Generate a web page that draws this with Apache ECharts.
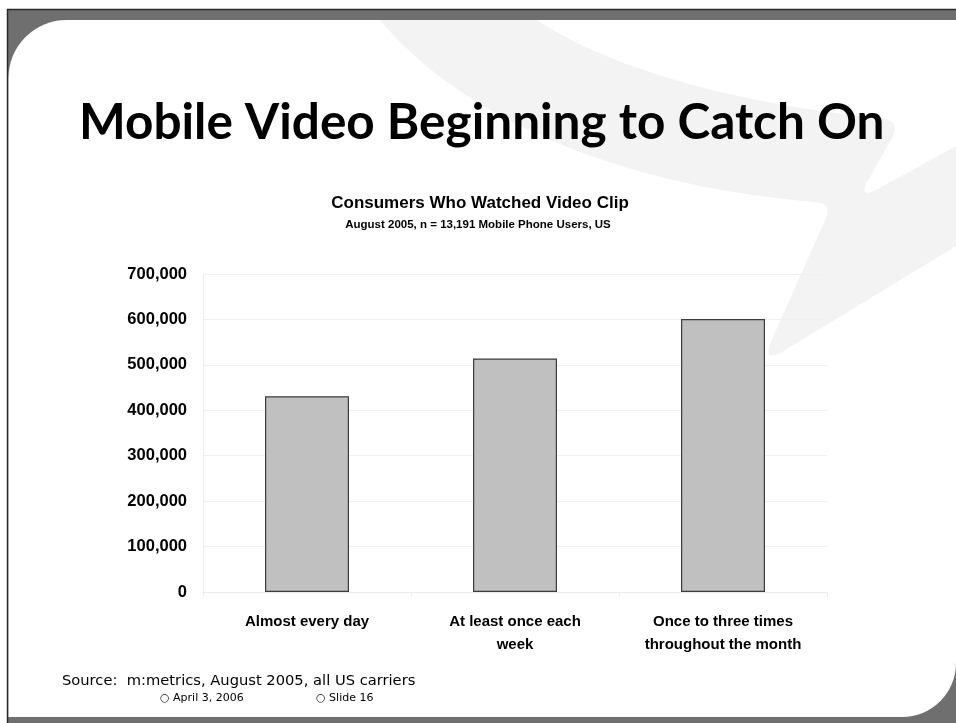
<!DOCTYPE html>
<html>
<head>
<meta charset="utf-8">
<script src="https://cdn.jsdelivr.net/npm/echarts@6/dist/echarts.min.js"></script>
<style>
  html, body { margin: 0; padding: 0; background: #ffffff; }
  #chart { width: 956px; height: 723px; }
</style>
</head>
<body>
<div id="chart"></div>
<script>
// Viewing frequency categories and audience counts
const categories = [
  'Almost every day',
  'At least once each\nweek',
  'Once to three times\nthroughout the month'
];
const viewers = [431000, 514000, 601000];

const slideTitle = 'Mobile Video Beginning to Catch On';
const chartTitle = 'Consumers Who Watched Video Clip';
const chartSubtitle = 'August 2005, n = 13,191 Mobile Phone Users, US';
const sourceNote = 'Source:  m:metrics, August 2005, all US carriers';
const footerDate = '\u25CB April 3, 2006';
const footerSlide = '\u25CB Slide 16';

// decorative swoosh in the slide template
echarts.graphic.registerShape('swoosh', echarts.graphic.extendPath(
  'M 380 20 L 537 20 C 592 58 712 102 880 118 Q 900 120 893 136 ' +
  'L 866 184 Q 860 198 876 190 L 956 146 L 956 246 L 782 352 ' +
  'Q 764 362 770 344 L 826 218 Q 832 203 815 202 C 640 188 470 128 380 20 Z'
));

const chart = echarts.init(document.getElementById('chart'), null, { renderer: 'canvas' });

const chartFont = '"Liberation Sans", Arial, sans-serif';

chart.setOption({
  animation: false,
  backgroundColor: '#ffffff',
  graphic: {
    elements: [
      // slide frame: dark band with rounded white page on top
      {
        type: 'rect', z: -10, silent: true,
        shape: { x: 7.5, y: 9.5, width: 960, height: 720 },
        style: { fill: '#6f6f6f', stroke: '#2a2a2a', lineWidth: 1.5 }
      },
      {
        type: 'rect', z: -9, silent: true,
        shape: { x: 8.5, y: 20, width: 947.5, height: 697, r: [58, 0, 54, 0] },
        style: { fill: '#ffffff' }
      },
      {
        type: 'swoosh', z: -8, silent: true,
        style: { fill: '#f3f3f3' }
      },
      {
        type: 'text', silent: true,
        x: 79, y: 123,
        style: {
          text: slideTitle,
          font: 'bold 49.5px Lato, "Open Sans", sans-serif',
          fill: '#000000', align: 'left', verticalAlign: 'middle'
        }
      },
      {
        type: 'text', silent: true,
        x: 480, y: 203,
        style: {
          text: chartTitle,
          font: 'bold 17px ' + chartFont,
          fill: '#000000', align: 'center', verticalAlign: 'middle'
        }
      },
      {
        type: 'text', silent: true,
        x: 478, y: 225,
        style: {
          text: chartSubtitle,
          font: 'bold 11.5px ' + chartFont,
          fill: '#000000', align: 'center', verticalAlign: 'middle'
        }
      },
      {
        type: 'text', silent: true,
        x: 62, y: 681,
        style: {
          text: sourceNote,
          font: '14.7px "DejaVu Sans", sans-serif',
          fill: '#000000', align: 'left', verticalAlign: 'middle'
        }
      },
      {
        type: 'text', silent: true,
        x: 160, y: 698,
        style: {
          text: footerDate,
          font: '11px "DejaVu Sans", sans-serif',
          fill: '#000000', align: 'left', verticalAlign: 'middle'
        }
      },
      {
        type: 'text', silent: true,
        x: 316, y: 698,
        style: {
          text: footerSlide,
          font: '11px "DejaVu Sans", sans-serif',
          fill: '#000000', align: 'left', verticalAlign: 'middle'
        }
      }
    ]
  },
  grid: {
    left: 203,
    right: 129,
    top: 274,
    bottom: 131,
    containLabel: false
  },
  xAxis: {
    type: 'category',
    data: categories,
    axisLine: { show: true, lineStyle: { color: '#ececec', width: 1 } },
    axisTick: { show: true, length: 5, lineStyle: { color: '#ececec' } },
    axisLabel: {
      interval: 0,
      margin: 18,
      color: '#000000',
      fontFamily: chartFont,
      fontWeight: 'bold',
      fontSize: 15,
      lineHeight: 23
    },
    splitLine: { show: false }
  },
  yAxis: {
    type: 'value',
    min: 0,
    max: 700000,
    interval: 100000,
    axisLine: { show: true, lineStyle: { color: '#ececec', width: 1 } },
    axisTick: { show: false },
    axisLabel: {
      margin: 16,
      color: '#000000',
      fontFamily: chartFont,
      fontWeight: 'bold',
      fontSize: 16.5,
      formatter: v => v.toLocaleString('en-US')
    },
    splitLine: { show: true, lineStyle: { color: '#f0f0f0', width: 1 } }
  },
  series: [{
    type: 'bar',
    data: viewers,
    barWidth: 84,
    itemStyle: {
      color: '#c0c0c0',
      borderColor: '#3c3c3c',
      borderWidth: 1.2
    }
  }]
});
</script>
</body>
</html>
